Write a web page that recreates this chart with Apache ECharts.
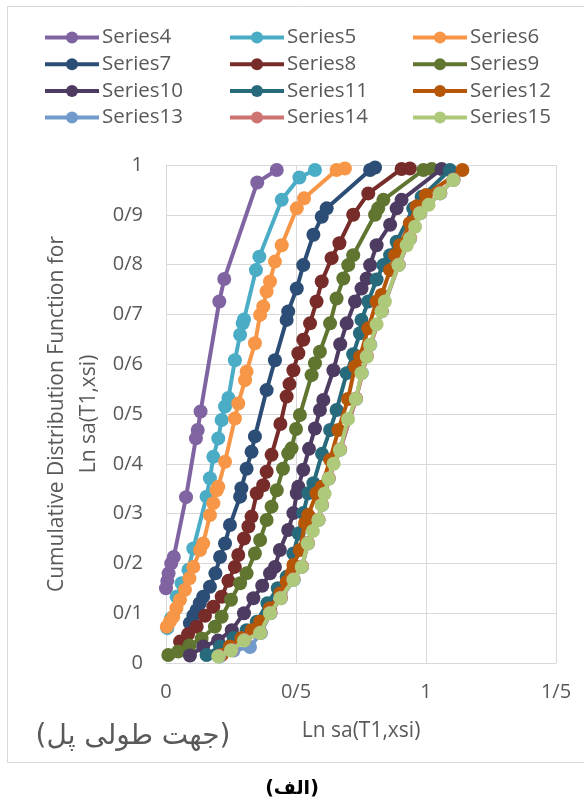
<!DOCTYPE html>
<html>
<head>
<meta charset="utf-8">
<script src="https://cdn.jsdelivr.net/npm/echarts@6/dist/echarts.min.js"></script>
<style>
  html, body { margin: 0; padding: 0; background: #fff; }
  #chart { width: 584px; height: 805px; }
</style>
</head>
<body>
<div id="chart"></div>
<script>
// Empirical CDF points [ln Sa, F] for each record set
const series4 = [[0.0,0.15],[0.005,0.165],[0.01,0.18],[0.02,0.2],[0.03,0.213],[0.077,0.333],[0.115,0.451],[0.122,0.468],[0.133,0.505],[0.205,0.726],[0.224,0.771],[0.351,0.965],[0.426,0.99]];
const series5 = [[0.005,0.07],[0.02,0.09],[0.041,0.133],[0.06,0.16],[0.086,0.187],[0.105,0.23],[0.156,0.334],[0.169,0.371],[0.182,0.414],[0.201,0.451],[0.214,0.488],[0.227,0.515],[0.24,0.532],[0.265,0.608],[0.285,0.659],[0.295,0.682],[0.3,0.69],[0.346,0.789],[0.359,0.816],[0.445,0.93],[0.513,0.975],[0.573,0.99]];
const series6 = [[0.003,0.073],[0.015,0.083],[0.028,0.093],[0.04,0.11],[0.054,0.127],[0.073,0.147],[0.09,0.17],[0.105,0.193],[0.131,0.227],[0.143,0.24],[0.169,0.297],[0.182,0.321],[0.195,0.347],[0.201,0.354],[0.227,0.404],[0.265,0.491],[0.278,0.521],[0.304,0.568],[0.31,0.585],[0.342,0.642],[0.362,0.699],[0.374,0.716],[0.387,0.746],[0.4,0.766],[0.419,0.806],[0.445,0.839],[0.503,0.913],[0.531,0.933],[0.656,0.99],[0.688,0.993]];
const series7 = [[0.092,0.08],[0.105,0.095],[0.118,0.106],[0.13,0.12],[0.143,0.133],[0.169,0.153],[0.19,0.18],[0.208,0.213],[0.227,0.24],[0.246,0.277],[0.285,0.334],[0.29,0.351],[0.31,0.39],[0.329,0.424],[0.342,0.455],[0.387,0.548],[0.419,0.608],[0.464,0.689],[0.47,0.706],[0.503,0.752],[0.528,0.799],[0.567,0.86],[0.599,0.896],[0.618,0.913],[0.785,0.99],[0.804,0.995]];
const series8 = [[0.054,0.043],[0.085,0.058],[0.118,0.073],[0.15,0.095],[0.182,0.113],[0.214,0.133],[0.24,0.165],[0.265,0.193],[0.278,0.217],[0.3,0.25],[0.317,0.274],[0.329,0.294],[0.349,0.341],[0.374,0.357],[0.387,0.384],[0.406,0.418],[0.44,0.48],[0.464,0.535],[0.475,0.56],[0.49,0.588],[0.509,0.622],[0.528,0.649],[0.554,0.682],[0.579,0.726],[0.599,0.766],[0.637,0.813],[0.667,0.843],[0.72,0.9],[0.778,0.943],[0.906,0.992],[0.938,0.993]];
const series9 = [[0.009,0.016],[0.047,0.023],[0.09,0.035],[0.137,0.049],[0.188,0.073],[0.214,0.093],[0.25,0.127],[0.285,0.16],[0.31,0.18],[0.342,0.22],[0.362,0.247],[0.387,0.287],[0.406,0.314],[0.426,0.347],[0.45,0.39],[0.47,0.421],[0.483,0.431],[0.5,0.47],[0.515,0.498],[0.56,0.578],[0.573,0.602],[0.592,0.625],[0.631,0.682],[0.656,0.732],[0.682,0.772],[0.701,0.799],[0.72,0.819],[0.804,0.9],[0.816,0.913],[0.836,0.93],[0.99,0.99],[1.022,0.992]];
const series10 = [[0.092,0.015],[0.143,0.033],[0.2,0.045],[0.253,0.066],[0.3,0.1],[0.336,0.13],[0.37,0.155],[0.4,0.18],[0.419,0.193],[0.438,0.227],[0.47,0.267],[0.49,0.301],[0.503,0.341],[0.509,0.354],[0.528,0.388],[0.55,0.43],[0.573,0.471],[0.592,0.508],[0.605,0.528],[0.644,0.588],[0.67,0.64],[0.695,0.682],[0.727,0.726],[0.752,0.752],[0.772,0.772],[0.785,0.799],[0.81,0.839],[0.862,0.88],[0.887,0.913],[0.906,0.93],[1.06,0.992]];
const series11 = [[0.156,0.016],[0.208,0.033],[0.26,0.05],[0.31,0.066],[0.349,0.083],[0.39,0.12],[0.43,0.15],[0.464,0.173],[0.49,0.22],[0.51,0.26],[0.528,0.301],[0.547,0.341],[0.567,0.361],[0.6,0.42],[0.631,0.468],[0.656,0.508],[0.695,0.582],[0.72,0.62],[0.746,0.662],[0.752,0.689],[0.778,0.726],[0.81,0.77],[0.836,0.799],[0.862,0.819],[0.887,0.846],[0.951,0.913],[0.983,0.936],[1.092,0.99]];
const series12 = [[0.214,0.016],[0.246,0.033],[0.29,0.05],[0.33,0.066],[0.362,0.083],[0.4,0.11],[0.44,0.14],[0.464,0.163],[0.483,0.18],[0.49,0.197],[0.515,0.227],[0.535,0.281],[0.547,0.297],[0.579,0.341],[0.599,0.354],[0.631,0.408],[0.663,0.468],[0.7,0.53],[0.727,0.595],[0.746,0.615],[0.778,0.672],[0.81,0.726],[0.829,0.739],[0.862,0.789],[0.881,0.819],[0.9,0.839],[0.938,0.883],[0.964,0.917],[1.0,0.94],[1.14,0.99]];
const series13 = [[0.205,0.013],[0.26,0.025],[0.323,0.032],[0.365,0.06],[0.402,0.1],[0.442,0.13],[0.492,0.167],[0.523,0.193],[0.546,0.24],[0.587,0.287],[0.6,0.317],[0.626,0.37],[0.67,0.428],[0.731,0.53],[0.753,0.582],[0.786,0.639],[0.83,0.706],[0.895,0.799],[0.939,0.852],[0.978,0.903],[1.055,0.943],[1.106,0.97]];
const series14 = [[0.203,0.014],[0.252,0.026],[0.302,0.046],[0.363,0.061],[0.402,0.101],[0.442,0.131],[0.49,0.168],[0.523,0.194],[0.546,0.241],[0.587,0.288],[0.6,0.318],[0.626,0.371],[0.67,0.429],[0.731,0.531],[0.773,0.616],[0.83,0.707],[0.895,0.8],[0.939,0.853],[0.978,0.904],[1.055,0.944],[1.106,0.971]];
const series15 = [[0.201,0.013],[0.25,0.025],[0.3,0.045],[0.362,0.06],[0.4,0.1],[0.44,0.13],[0.49,0.167],[0.522,0.193],[0.545,0.24],[0.565,0.265],[0.586,0.287],[0.599,0.317],[0.61,0.34],[0.625,0.37],[0.645,0.4],[0.669,0.428],[0.7,0.49],[0.73,0.53],[0.752,0.582],[0.772,0.615],[0.785,0.639],[0.81,0.68],[0.829,0.706],[0.842,0.726],[0.894,0.799],[0.926,0.839],[0.938,0.852],[0.958,0.876],[0.977,0.903],[1.01,0.92],[1.054,0.943],[1.105,0.97]];

const seriesNames = ['Series4','Series5','Series6','Series7','Series8','Series9','Series10','Series11','Series12','Series13','Series14','Series15'];
const seriesData = [series4, series5, series6, series7, series8, series9, series10, series11, series12, series13, series14, series15];
const seriesColors = ['#8064A2','#4BACC6','#F79646','#2C4D75','#772C2A','#5F7530','#4D3B62','#276A7C','#B65708','#729ACA','#CD7371','#AFC97A'];

const xTicks = { min: 0, max: 1.5, interval: 0.5 };
const yTicks = { min: 0, max: 1, interval: 0.1 };

const textColor = '#595959';
const baseFont = 'Open Sans';

// "0.9" -> "0/9" (Persian-style decimal separator)
function slashDecimal(v) {
  const r = Math.round(v * 10) / 10;
  if (Number.isInteger(r)) return String(r);
  return r.toFixed(1).replace('.', '/');
}

const chart = echarts.init(document.getElementById('chart'), null, { renderer: 'canvas' });

const legendColumns = [0, 1, 2].map(c => seriesNames.filter((_, i) => i % 3 === c));
const legendLeft = [43, 228, 411];

const option = {
  backgroundColor: '#ffffff',
  animation: false,
  textStyle: { fontFamily: baseFont },
  grid: { left: 166, top: 165, right: 28, bottom: 142, containLabel: false },
  legend: legendColumns.map((names, c) => ({
    data: names,
    orient: 'vertical',
    left: legendLeft[c],
    top: 27,
    padding: 0,
    itemWidth: 54,
    itemHeight: 15,
    itemGap: 5.7,
    lineStyle: { width: 4 },
    textStyle: { color: textColor, fontSize: 20.5, fontFamily: baseFont, lineHeight: 20.5, padding: [0, 0, 0, -2] },
    selectedMode: false
  })),
  xAxis: {
    type: 'value',
    min: xTicks.min, max: xTicks.max, interval: xTicks.interval,
    axisLine: { show: true, lineStyle: { color: '#D9D9D9', width: 1 } },
    axisTick: { show: false },
    axisLabel: { color: textColor, fontSize: 20, margin: 19, formatter: slashDecimal },
    splitLine: { show: true, lineStyle: { color: '#D9D9D9', width: 1 } }
  },
  yAxis: {
    type: 'value',
    min: yTicks.min, max: yTicks.max, interval: yTicks.interval,
    axisLine: { show: true, lineStyle: { color: '#D9D9D9', width: 1 } },
    axisTick: { show: false },
    axisLabel: { color: textColor, fontSize: 20, margin: 23, formatter: slashDecimal },
    splitLine: { show: true, lineStyle: { color: '#D9D9D9', width: 1 } }
  },
  series: seriesNames.map((name, i) => ({
    name,
    type: 'line',
    data: seriesData[i],
    symbol: 'circle',
    symbolSize: 14,
    showSymbol: true,
    clip: true,
    color: seriesColors[i],
    lineStyle: { width: 4, color: seriesColors[i] },
    itemStyle: { color: seriesColors[i] },
    z: 2 + i
  })),
  graphic: [
    {
      type: 'rect', silent: true, z: -10,
      shape: { x: 7.5, y: 6.5, width: 620, height: 756 },
      style: { fill: 'none', stroke: '#D9D9D9', lineWidth: 1 }
    },
    {
      type: 'text', silent: true,
      x: 73, y: 414, rotation: Math.PI / 2,
      style: {
        text: 'Cumulative Distribution Function for\nLn sa(T1,xsi)',
        font: '21px "' + baseFont + '"', fill: textColor,
        align: 'center', verticalAlign: 'middle', lineHeight: 32
      }
    },
    {
      type: 'text', silent: true,
      x: 361, y: 731,
      style: {
        text: 'Ln sa(T1,xsi)', font: '21px "' + baseFont + '"', fill: textColor,
        align: 'center', verticalAlign: 'middle'
      }
    },
    {
      type: 'text', silent: true,
      x: 133, y: 737,
      style: {
        text: '(جهت طولی پل)', font: '28px "DejaVu Sans"', fill: textColor,
        align: 'center', verticalAlign: 'middle'
      }
    },
    {
      type: 'text', silent: true,
      x: 292, y: 789,
      style: {
        text: '(الف)', font: 'bold 19px "DejaVu Sans"', fill: '#000000',
        align: 'center', verticalAlign: 'middle'
      }
    }
  ]
};

chart.setOption(option);
</script>
</body>
</html>
